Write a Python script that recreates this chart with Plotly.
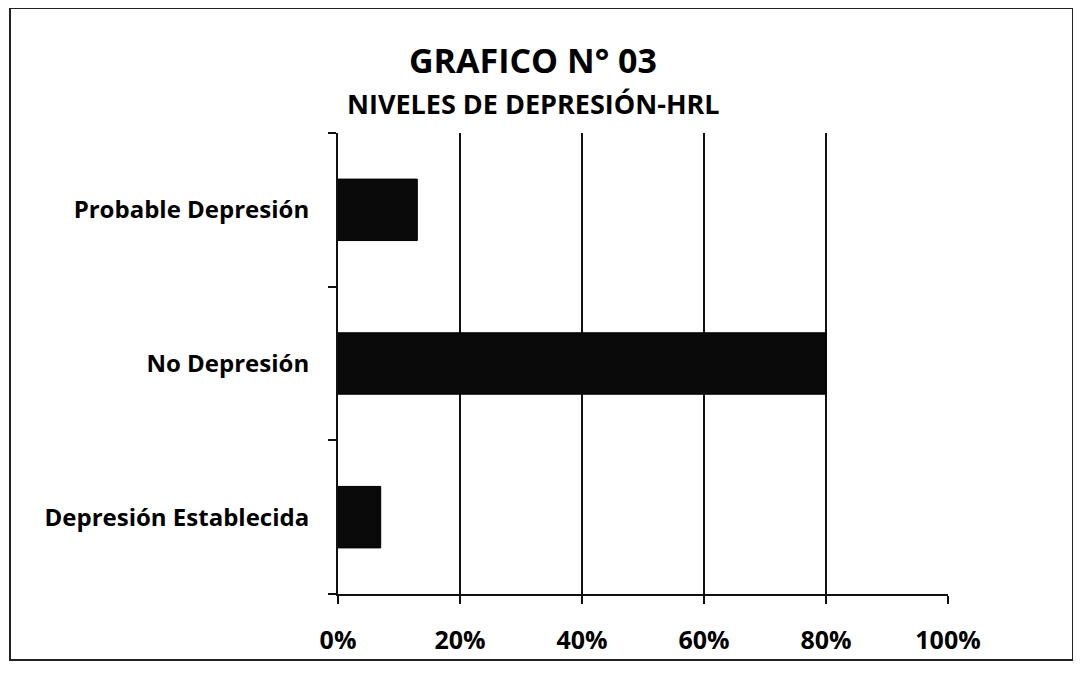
import plotly.graph_objects as go

categories = ["Depresión Establecida", "No Depresión", "Probable Depresión"]
values = [7, 80, 13]
tick_vals = [0, 20, 40, 60, 80, 100]
tick_text = ["0%", "20%", "40%", "60%", "80%", "100%"]
title_main = "GRAFICO N° 03"
title_sub = "NIVELES DE DEPRESIÓN-HRL"

FONT = "'Open Sans', Lato, sans-serif"

# page body has an 8px default margin, so offsets compensate for it
OFF = 8
L, R, T, B = 338 - OFF, 948 - OFF, 133 - OFF, 594 - OFF
W, H = 1081, 676
PW, PH = R - L, B - T


def px(xp):
    return (xp - OFF - L) / PW


def py(yp):
    return (B - (yp - OFF)) / PH


fig = go.Figure()
fig.add_trace(go.Bar(
    y=categories, x=values, orientation="h",
    marker=dict(color="#0a0a0a", line=dict(color="#000", width=1)),
    hoverinfo="x+y",
))

fig.update_layout(
    width=W, height=H,
    margin=dict(l=L, r=W - R, t=T, b=H - B, autoexpand=False),
    paper_bgcolor="white", plot_bgcolor="white",
    bargap=0.6,
    showlegend=False,
    font=dict(family=FONT, color="black"),
)

fig.update_xaxes(
    range=[0, 100], tickvals=tick_vals, ticktext=tick_text,
    showgrid=True, gridcolor="#111", gridwidth=2,
    showline=True, linecolor="#111", linewidth=2,
    ticks="outside", ticklen=8, tickwidth=2, tickcolor="#111",
    tickfont=dict(family=FONT, size=25, color="black", weight="bold"),
    ticklabelstandoff=15, zeroline=False,
)
fig.update_yaxes(
    categoryorder="array", categoryarray=categories,
    showgrid=False,
    showline=True, linecolor="#111", linewidth=2,
    ticks="outside", ticklen=8, tickwidth=2, tickcolor="#111",
    tickson="boundaries",
    tickfont=dict(family=FONT, size=24, color="black", weight="bold"),
    ticklabelstandoff=22,
)

# titles
fig.add_annotation(text=title_main, xref="paper", yref="paper",
                   x=px(533), y=py(60), xanchor="center", yanchor="middle",
                   showarrow=False,
                   font=dict(family=FONT, size=34, color="black", weight="bold"))
fig.add_annotation(text=title_sub, xref="paper", yref="paper",
                   x=px(533), y=py(103), xanchor="center", yanchor="middle",
                   showarrow=False,
                   font=dict(family=FONT, size=27, color="black", weight="bold"))

# outer border
fig.add_shape(type="rect", xref="paper", yref="paper",
              x0=px(10), x1=px(1073), y0=py(660), y1=py(8),
              line=dict(color="#222", width=2), layer="below")

fig.write_html("out.html")
